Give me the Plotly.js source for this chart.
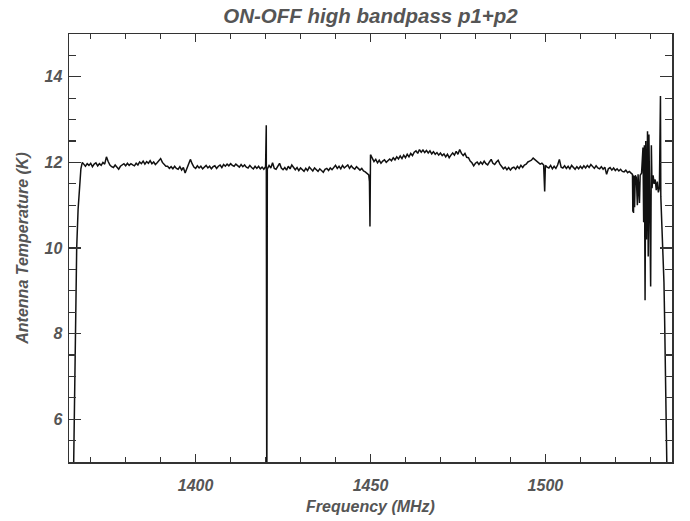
<!DOCTYPE html>
<html>
<head>
<meta charset="utf-8">
<script src="https://cdn.plot.ly/plotly-3.0.1.min.js"></script>
<style>html,body{margin:0;padding:0;background:#fff;}#chart{width:690px;height:521px;}</style>
</head>
<body>
<div id="chart"></div>
<script>
// Low-frequency edge of the band (roll-on)
const rampFreq = [1364.8, 1365.1, 1365.3, 1365.6, 1366.0, 1366.4, 1366.8, 1367.2, 1367.6];
const rampTemp = [3.0, 5.0, 6.2, 8.0, 10.0, 10.9, 11.5, 11.85, 12.0];

// Main band (MHz) and antenna temperature (K)
const bandFreq = [
 1368.0,1368.5,1369.0,1369.5,1370.0,1370.5,1371.0,1371.5,1372.0,1372.5,
 1373.0,1373.5,1374.0,1374.5,1375.0,1375.5,1376.0,1376.5,1377.0,1377.5,
 1378.0,1378.5,1379.0,1379.5,1380.0,1380.5,1381.0,1381.5,1382.0,1382.5,
 1383.0,1383.5,1384.0,1384.5,1385.0,1385.5,1386.0,1386.5,1387.0,1387.5,
 1388.0,1388.5,1389.0,1389.5,1390.0,1390.5,1391.0,1391.5,1392.0,1392.5,
 1393.0,1393.5,1394.0,1394.5,1395.0,1395.5,1396.0,1396.5,1397.0,1397.5,
 1398.0,1398.5,1399.0,1399.5,1400.0,1400.5,1401.0,1401.5,1402.0,1402.5,
 1403.0,1403.5,1404.0,1404.5,1405.0,1405.5,1406.0,1406.5,1407.0,1407.5,
 1408.0,1408.5,1409.0,1409.5,1410.0,1410.5,1411.0,1411.5,1412.0,1412.5,
 1413.0,1413.5,1414.0,1414.5,1415.0,1415.5,1416.0,1416.5,1417.0,1417.5,
 1418.0,1418.5,1419.0,1419.5,1420.0,1420.2,1420.35,1420.5,1421.0,1421.5,1422.0,1422.5,
 1423.0,1423.5,1424.0,1424.5,1425.0,1425.5,1426.0,1426.5,1427.0,1427.5,
 1428.0,1428.5,1429.0,1429.5,1430.0,1430.5,1431.0,1431.5,1432.0,1432.5,
 1433.0,1433.5,1434.0,1434.5,1435.0,1435.5,1436.0,1436.5,1437.0,1437.5,
 1438.0,1438.5,1439.0,1439.5,1440.0,1440.5,1441.0,1441.5,1442.0,1442.5,
 1443.0,1443.5,1444.0,1444.5,1445.0,1445.5,1446.0,1446.5,1447.0,1447.5,
 1448.0,1448.5,1449.0,1449.5,1449.7,1449.85,1450.0,1450.5,
 1451.0,1451.5,1452.0,1452.5,1453.0,1453.5,1454.0,1454.5,1455.0,1455.5,
 1456.0,1456.5,1457.0,1457.5,1458.0,1458.5,1459.0,1459.5,1460.0,1460.5,
 1461.0,1461.5,1462.0,1462.5,1463.0,1463.5,1464.0,1464.5,1465.0,1465.5,
 1466.0,1466.5,1467.0,1467.5,1468.0,1468.5,1469.0,1469.5,1470.0,1470.5,
 1471.0,1471.5,1472.0,1472.5,1473.0,1473.5,1474.0,1474.5,1475.0,1475.5,
 1476.0,1476.5,1477.0,1477.5,1478.0,1478.5,1479.0,1479.5,1480.0,1480.5,
 1481.0,1481.5,1482.0,1482.5,1483.0,1483.5,1484.0,1484.5,1485.0,1485.5,
 1486.0,1486.5,1487.0,1487.5,1488.0,1488.5,1489.0,1489.5,1490.0,1490.5,
 1491.0,1491.5,1492.0,1492.5,1493.0,1493.5,1494.0,1494.5,1495.0,1495.5,
 1496.0,1496.5,1497.0,1497.5,1498.0,1498.5,1499.0,1499.5,1499.8,1500.0,1500.5,
 1501.0,1501.5,1502.0,1502.5,1503.0,1503.5,1504.0,1504.5,1505.0,1505.5,
 1506.0,1506.5,1507.0,1507.5,1508.0,1508.5,1509.0,1509.5,1510.0,1510.5,
 1511.0,1511.5,1512.0,1512.5,1513.0,1513.5,1514.0,1514.5,1515.0,1515.5,
 1516.0,1516.5,1517.0,1517.5,1518.0,1518.5,1519.0,1519.5,1520.0,1520.5,
 1521.0,1521.5,1522.0,1522.5,1523.0,1523.5,1524.0,1524.5
];
const bandTemp = [
 11.95,11.91,11.97,11.93,11.98,11.90,11.96,11.99,11.92,11.97,
 11.93,12.00,11.96,12.13,12.02,11.94,11.90,11.88,11.94,11.89,
 11.84,11.91,11.95,11.97,11.92,11.98,11.93,11.97,11.94,11.92,
 11.98,11.94,12.01,11.97,12.03,11.96,12.02,11.98,12.04,11.97,
 12.01,11.95,11.99,12.05,12.09,12.00,11.94,11.91,11.91,11.86,
 11.90,11.85,11.91,11.86,11.84,11.90,11.82,11.88,11.75,11.87,
 11.95,12.07,11.97,11.89,11.86,11.92,11.87,11.91,11.85,11.90,
 11.93,11.87,11.91,11.85,11.90,11.92,11.86,11.91,11.94,11.88,
 11.95,11.91,11.96,11.92,11.97,11.93,11.91,11.96,11.92,11.89,
 11.95,11.90,11.94,11.89,11.87,11.93,11.88,11.85,11.91,11.86,
 11.91,11.85,11.89,11.84,11.90,12.87,3.50,11.85,11.93,11.87,11.99,11.86,
 11.84,11.91,11.98,11.87,11.83,11.88,11.82,11.91,11.85,11.94,
 11.87,11.83,11.88,11.81,11.87,11.82,11.79,11.86,11.81,11.89,
 11.83,11.80,11.87,11.82,11.79,11.85,11.80,11.77,11.84,11.86,
 11.81,11.87,11.83,11.89,11.93,11.86,11.91,11.85,11.93,11.87,
 11.91,11.94,11.86,11.92,11.87,11.84,11.90,11.85,11.82,11.86,
 11.80,11.78,11.75,11.71,11.55,10.50,12.18,12.08,
 12.02,12.07,11.99,12.05,11.98,12.03,12.06,12.00,12.05,12.08,
 12.04,12.11,12.06,12.13,12.08,12.15,12.09,12.17,12.11,12.19,
 12.13,12.21,12.16,12.24,12.27,12.21,12.30,12.24,12.29,12.23,
 12.28,12.22,12.27,12.20,12.25,12.19,12.23,12.17,12.22,12.16,
 12.20,12.13,12.19,12.11,12.17,12.22,12.17,12.26,12.19,12.30,
 12.21,12.16,12.21,12.12,12.11,12.03,11.99,11.92,11.98,12.01,
 11.95,12.01,11.96,12.03,11.97,11.94,12.01,12.07,11.98,11.95,
 12.01,12.05,11.96,11.89,11.85,11.89,11.83,11.88,11.82,11.87,
 11.89,11.84,11.91,11.86,11.93,11.88,11.94,11.96,12.01,12.03,
 12.05,12.10,12.06,12.02,12.00,11.96,11.98,11.94,11.32,11.93,11.89,
 11.87,11.93,11.85,11.91,11.86,11.94,12.07,11.89,11.87,11.92,
 11.86,11.91,11.85,11.93,11.87,11.84,11.90,11.85,11.91,11.86,
 11.92,11.87,11.93,11.88,11.95,11.89,11.86,11.92,11.87,11.85,
 11.90,11.84,11.89,11.72,11.85,11.88,11.82,11.87,11.81,11.85,
 11.80,11.84,11.79,11.78,11.82,11.76,11.79,11.75
];

// Interference region and high-frequency roll-off
const rfiFreq = [1524.9,1525.0,1525.1,1525.2,1525.3,1525.5,1525.7,1526.0,1526.3,1526.5,
 1526.9,1527.1,1527.5,1527.9,1528.1,1528.3,1528.5,1528.7,1528.9,1529.2,
 1529.4,1529.6,1529.8,1530.1,1530.3,1530.5,1530.8,1531.1,1531.4,1531.7,
 1532.0,1532.3,1532.6,1532.9,1533.0,1533.3,1533.6,1533.9,1534.1,1534.3,
 1534.5,1534.7,1534.9];
const rfiTemp = [11.72,10.85,11.70,10.82,11.68,10.95,11.70,11.65,11.00,11.72,
 11.05,11.70,11.75,12.35,10.60,12.40,8.78,12.50,10.20,12.73,
 9.80,12.65,11.10,9.10,12.40,11.40,11.70,11.50,11.60,11.35,
 11.55,11.30,11.40,13.55,11.20,10.60,9.70,9.20,8.30,7.10,
 6.30,5.00,4.00];

const freq = rampFreq.concat(bandFreq, rfiFreq);
const temp = rampTemp.concat(bandTemp, rfiTemp);

const txt = '#555';
const fnt = (s) => ({family: 'Liberation Sans, Arial, sans-serif', size: s, color: txt, weight: 'bold', style: 'italic'});

const trace = {
  x: freq, y: temp, type: 'scatter', mode: 'lines',
  line: {color: '#111', width: 1.5}, hoverinfo: 'skip'
};

const axisCommon = {
  showgrid: false, zeroline: false, showline: true, linecolor: '#333', linewidth: 1.5,
  mirror: 'allticks', ticks: 'inside', tickcolor: '#333', tickwidth: 1.3
};

const layout = {
  width: 690, height: 521,
  margin: {l: 69, r: 18, t: 34, b: 59},
  paper_bgcolor: '#fff', plot_bgcolor: '#fff',
  showlegend: false,
  title: {text: 'ON-OFF high bandpass p1+p2', font: fnt(20.5), x: 0.5, xref: 'paper', y: 0.969, yref: 'container', yanchor: 'middle'},
  xaxis: Object.assign({}, axisCommon, {
    range: [1363.8, 1536.2], tickvals: [1400, 1450, 1500], ticktext: ['1400', '1450', '1500'],
    ticklen: 8, tickfont: fnt(16), ticklabelstandoff: 8,
    minor: {dtick: 10, tick0: 1400, ticks: 'inside', ticklen: 5, tickcolor: '#333', tickwidth: 1.3, showgrid: false},
    title: {text: 'Frequency (MHz)', font: fnt(16), standoff: 8}
  }),
  yaxis: Object.assign({}, axisCommon, {
    range: [5, 15], tickvals: [6, 8, 10, 12, 14], ticktext: ['6', '8', '10', '12', '14'],
    ticklen: 12, tickfont: fnt(16), ticklabelstandoff: 2,
    minor: {dtick: 0.5, tick0: 5, ticks: 'inside', ticklen: 7, tickcolor: '#333', tickwidth: 1.3, showgrid: false},
    title: {text: 'Antenna Temperature (K)', font: fnt(16), standoff: 12}
  })
};

Plotly.newPlot('chart', [trace], layout, {displayModeBar: false, staticPlot: true});
</script>
</body>
</html>
